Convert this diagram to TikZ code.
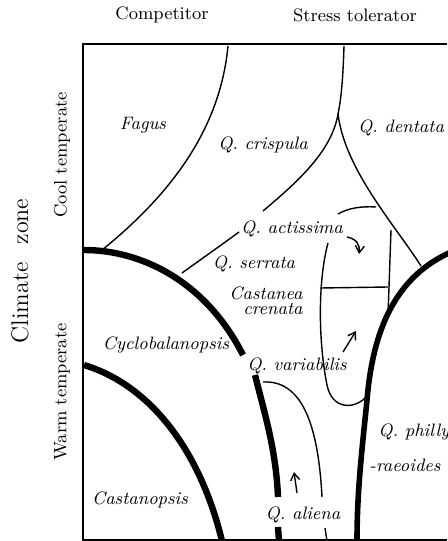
\documentclass[tikz,border=0pt]{standalone}
\usepackage{tikz}
\usetikzlibrary{arrows.meta}

\begin{document}
\begin{tikzpicture}[
    x=0.5pt, y=-0.5pt,
    >={Straight Barb[length=3.5pt, width=4.5pt]},
    axis/.style={font=\small},
    taxon/.style={font=\small\itshape, inner sep=1pt},
    border/.style={line width=0.7pt},
    zoneline/.style={line width=3.2pt}
]
\useasboundingbox (0,0) rectangle (447,541);

% Frame
\draw[line width=0.9pt] (447,44) -- (83,44) -- (83,540) -- (447,540);

% Axis labels
\node[axis] (comp) at (162,15) {Competitor};
\node[axis] (stress) at (355,15) {Stress tolerator};
\node[font=\large, rotate=90] (climate) at (20,271) {Climate\hspace{9pt}zone};
\node[axis, rotate=90] (cool) at (62,155) {Cool temperate};
\node[axis, rotate=90] (warm) at (62,392) {Warm temperate};

% Taxa
\node[taxon] (fagus) at (143,125) {Fagus};
\node[taxon] (crispula) at (263,145) {Q. crispula};
\node[taxon] (dentata) at (401,128) {Q. dentata};
\node[taxon] (actissima) at (292,229) {Q. actissima};
\node[taxon] (serrata) at (254,264) {Q. serrata};
\node[taxon, align=right] (castanea) at (266,301) {Castanea\\[-3.5pt]crenata};
\node[taxon] (cyclo) at (166,345) {Cyclobalanopsis};
\node[taxon] (variabilis) at (297,366) {Q. variabilis};
\node[taxon, anchor=west] (philly) at (376,432) {Q. philly};
\node[taxon, anchor=west] (raeoides) at (367,465) {-raeoides};
\node[taxon] (castanopsis) at (140,500) {Castanopsis};
\node[taxon] (aliena) at (303,515) {Q. aliena};

% Thin boundaries
\draw[border] (228,46) .. controls (220,130) and (170,195) .. (102,250);
\draw[border] (344,46) .. controls (343,80) and (341,100) .. (338,114)
    .. controls (332,150) and (300,180) .. (263,211);
\draw[border] (239,232) .. controls (220,246) and (200,260) .. (182,273);
\draw[border] (338,114) .. controls (345,170) and (395,225) .. (421,266);
\draw[border] (338,214) .. controls (348,208) and (362,206) .. (376,207);
\draw[border] (391,230) -- (388,316);
\draw[border] (320,288) -- (388,287);
\draw[border] (328,243) .. controls (318,280) and (318,340) .. (327,385)
    .. controls (332,410) and (355,410) .. (367,396);
\draw[border] (263,382) .. controls (300,380) and (318,420) .. (322,497);
\draw[border] (325,528) -- (327,541);

% Shift arrows
\draw[border, ->] (347,237) .. controls (357,239) and (360,245) .. (359,254);
\draw[border, ->] (343,352) -- (356,331);
\draw[border, ->] (297,493) -- (294,472);

% Thick boundaries
\draw[zoneline] (84,250) .. controls (140,250) and (205,280) .. (243,355);
\draw[zoneline] (255,375) .. controls (265,415) and (276,450) .. (278,497);
\draw[zoneline] (278,527) -- (279,541);
\draw[zoneline] (84,365) .. controls (150,385) and (200,450) .. (222,541);
\draw[zoneline, line width=2.8pt] (449,253) .. controls (390,280) and (372,340) .. (367,400)
    .. controls (362,450) and (357,490) .. (357,541);

\end{tikzpicture}
\end{document}
